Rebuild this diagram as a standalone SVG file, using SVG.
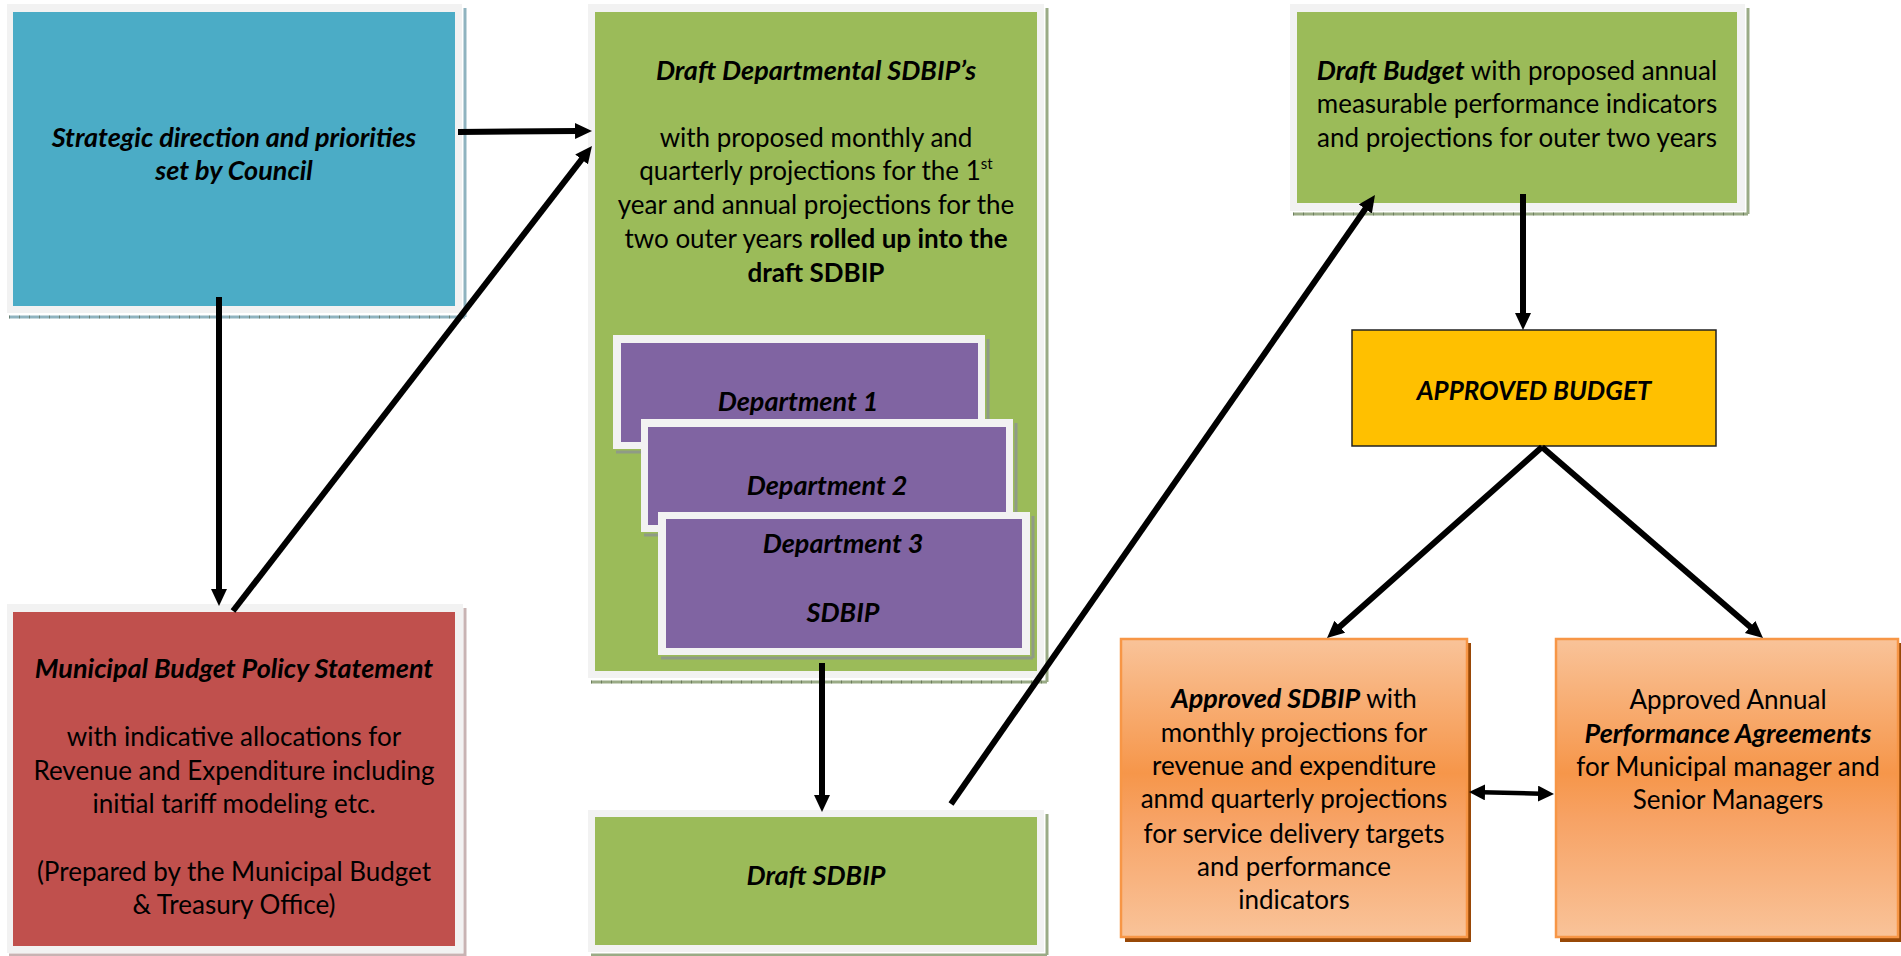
<svg xmlns="http://www.w3.org/2000/svg" width="1901" height="956" viewBox="0 0 1901 956">
<style>
text{font-family:Lato,"Liberation Sans",sans-serif;font-size:26px;fill:#000;text-anchor:middle}
.bi{font-weight:bold;font-style:italic;font-size:27px}
.b{font-weight:bold}
.frame{fill:#f2f2f2}
.sh{fill:none;stroke-width:3}
.shb{stroke:#8fb3bf}
.shg{stroke:#9aab86}
.shr{stroke:#c8b3b3}
.shp{stroke:#8f9b86}
.tick{fill:none;stroke-width:3;stroke:#4f5f44;stroke-dasharray:1 9;opacity:.6}
.conn{stroke:#000;stroke-width:6;fill:none;marker-end:url(#ah)}
.orn{stroke:#F79646;stroke-width:2.5;fill:url(#og)}
.ornsh{fill:#984807}
</style>
<defs>
<marker id="ah" markerUnits="userSpaceOnUse" markerWidth="18" markerHeight="17" refX="3" refY="8" orient="auto" viewBox="0 0 18 17">
<path d="M0,0 L17,8 L0,16 z" fill="#000"/>
</marker>
<marker id="ah2" markerUnits="userSpaceOnUse" markerWidth="18" markerHeight="17" refX="3" refY="8" orient="auto-start-reverse" viewBox="0 0 18 17">
<path d="M0,0 L16,8 L0,16 z" fill="#000"/>
</marker>
<linearGradient id="og" x1="0" y1="0" x2="0" y2="1">
<stop offset="0" stop-color="#F9C399"/>
<stop offset="0.45" stop-color="#F6964A"/>
<stop offset="0.6" stop-color="#F7A264"/>
<stop offset="1" stop-color="#F9C399"/>
</linearGradient>
</defs>
<rect x="0" y="0" width="1901" height="956" fill="#fff"/>

<g id="strategic">
<line class="sh shb" x1="9" y1="317" x2="465" y2="317"/>
<line class="sh shb" x1="465" y1="8" x2="465" y2="317"/>
<line class="tick" x1="9" y1="317" x2="465" y2="317"/>
<rect class="frame" x="7" y="4" width="455" height="309"/>
<rect x="13" y="12" width="442" height="294" fill="#4BACC6"/>
<text class="bi" x="234" y="147">Strategic direction and priorities</text>
<text class="bi" x="234" y="180">set by Council</text>
</g>

<g id="mbps">
<line class="sh shr" x1="465" y1="608" x2="465" y2="956"/>
<line class="sh shr" x1="9" y1="955" x2="465" y2="955"/>
<rect class="frame" x="7" y="604" width="456" height="349"/>
<rect x="13" y="612" width="442" height="334" fill="#C0504D"/>
<text class="bi" x="234" y="678">Municipal Budget Policy Statement</text>
<text x="234" y="746">with indicative allocations for</text>
<text x="234" y="780">Revenue and Expenditure including</text>
<text x="234" y="813">initial tariff modeling etc.</text>
<text x="234" y="881">(Prepared by the Municipal Budget</text>
<text x="234" y="914">&amp; Treasury Office)</text>
</g>

<g id="draft-departmental">
<line class="sh shg" x1="591" y1="682" x2="1047" y2="682"/>
<line class="sh shg" x1="1047" y1="8" x2="1047" y2="682"/>
<line class="tick" x1="591" y1="682" x2="1047" y2="682"/>
<rect class="frame" x="588" y="4" width="456" height="674"/>
<rect x="595" y="12" width="442" height="659" fill="#9BBB59"/>
<text class="bi" x="816" y="80">Draft Departmental SDBIP’s</text>
<text x="816" y="147">with proposed monthly and</text>
<text x="816" y="180">quarterly projections for the 1<tspan font-size="15" dy="-11">st</tspan></text>
<text x="816" y="214">year and annual projections for the</text>
<text x="816" y="248">two outer years <tspan class="b">rolled up into the</tspan></text>
<text class="b" x="816" y="282">draft SDBIP</text>
</g>

<g id="dept1">
<line class="sh shp" x1="616" y1="452" x2="988" y2="452"/>
<line class="sh shp" x1="988" y1="339" x2="988" y2="452"/>
<rect class="frame" x="613" y="335" width="372" height="114"/>
<rect x="621" y="343" width="357" height="99" fill="#8064A2"/>
<text class="bi" x="798" y="411">Department 1</text>
</g>

<g id="dept2">
<line class="sh shp" x1="644" y1="535" x2="1016" y2="535"/>
<line class="sh shp" x1="1016" y1="423" x2="1016" y2="535"/>
<rect class="frame" x="641" y="419" width="372" height="113"/>
<rect x="648" y="427" width="358" height="98" fill="#8064A2"/>
<text class="bi" x="827" y="495">Department 2</text>
</g>

<g id="dept3">
<line class="sh shp" x1="661" y1="658" x2="1033" y2="658"/>
<line class="sh shp" x1="1033" y1="516" x2="1033" y2="658"/>
<rect class="frame" x="658" y="512" width="372" height="143"/>
<rect x="666" y="519" width="356" height="129" fill="#8064A2"/>
<text class="bi" x="843" y="553">Department 3</text>
<text class="bi" x="843" y="622">SDBIP</text>
</g>

<g id="draft-sdbip">
<line class="sh shg" x1="591" y1="955" x2="1047" y2="955"/>
<line class="sh shg" x1="1047" y1="814" x2="1047" y2="955"/>
<rect class="frame" x="588" y="810" width="456" height="142"/>
<rect x="595" y="817" width="442" height="128" fill="#9BBB59"/>
<text class="bi" x="816" y="885">Draft SDBIP</text>
</g>

<g id="draft-budget">
<line class="sh shg" x1="1293" y1="214" x2="1748" y2="214"/>
<line class="sh shg" x1="1748" y1="8" x2="1748" y2="214"/>
<line class="tick" x1="1293" y1="214" x2="1748" y2="214"/>
<rect class="frame" x="1290" y="4" width="455" height="207"/>
<rect x="1297" y="12" width="440" height="191" fill="#9BBB59"/>
<text x="1517" y="80"><tspan class="bi">Draft Budget</tspan> with proposed annual</text>
<text x="1517" y="113">measurable performance indicators</text>
<text x="1517" y="147">and projections for outer two years</text>
</g>

<g id="approved-budget">
<rect x="1352" y="330" width="364" height="116" fill="#FFC000" stroke="#222" stroke-width="1.5"/>
<text class="bi" x="1534" y="400" style="font-size:26px">APPROVED BUDGET</text>
</g>

<g id="approved-sdbip">
<rect class="ornsh" x="1125" y="643" width="346" height="299"/>
<rect class="orn" x="1121" y="639" width="346" height="298"/>
<text x="1294" y="708"><tspan class="bi">Approved SDBIP</tspan> with</text>
<text x="1294" y="742">monthly projections for</text>
<text x="1294" y="775">revenue and expenditure</text>
<text x="1294" y="808">anmd quarterly projections</text>
<text x="1294" y="843">for service delivery targets</text>
<text x="1294" y="876">and performance</text>
<text x="1294" y="909">indicators</text>
</g>

<g id="performance-agreements">
<rect class="ornsh" x="1560" y="643" width="341" height="299"/>
<rect class="orn" x="1556" y="639" width="342" height="298"/>
<text x="1728" y="709">Approved Annual</text>
<text class="bi" x="1728" y="743">Performance Agreements</text>
<text x="1728" y="776">for Municipal manager and</text>
<text x="1728" y="809">Senior Managers</text>
</g>

<g id="connectors">
<path class="conn" d="M458,132 L578,131"/>
<path class="conn" d="M219,297 L219,592"/>
<path class="conn" d="M233,611 L583.4,157.1"/>
<path class="conn" d="M822,663 L822,798"/>
<path class="conn" d="M951,804 L1367,206.5"/>
<path class="conn" d="M1523,194 L1523,316"/>
<path class="conn" d="M1542,447 L1337.5,628.7"/>
<path class="conn" d="M1542,447 L1752.4,628.85"/>
<path d="M1482,792.3 L1541,793.7" stroke="#000" stroke-width="4.5" fill="none" marker-start="url(#ah2)" marker-end="url(#ah2)"/>
</g>
</svg>
